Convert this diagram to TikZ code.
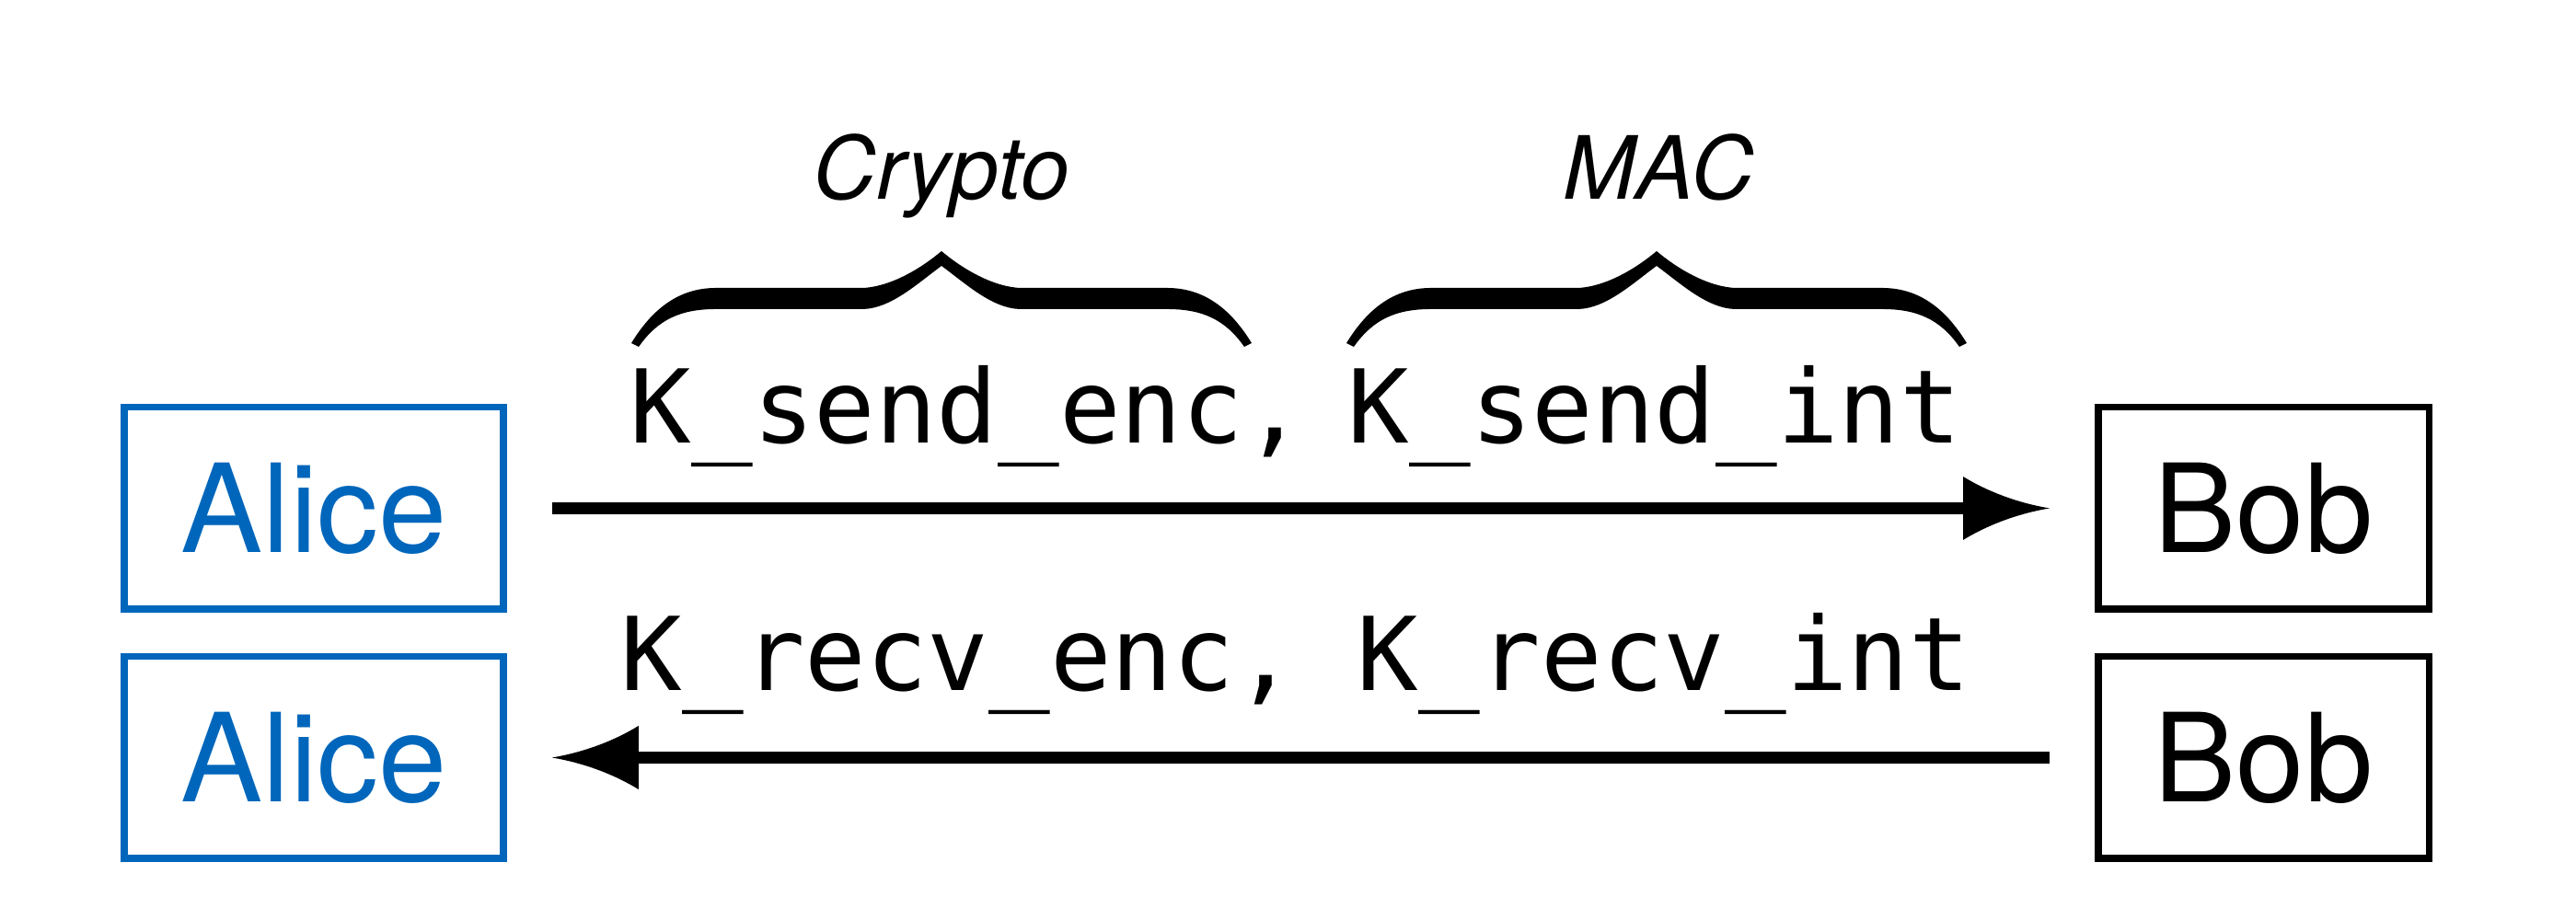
\documentclass[tikz,border=0pt]{standalone}
\usepackage{fontspec}
\setmainfont{TeX Gyre Heros}
\setmonofont{DejaVu Sans Mono}
\usetikzlibrary{arrows.meta}

\definecolor{alicecol}{HTML}{0066BB}

% concave arrow head with a flat back
\pgfdeclarearrow{
  name = Dart,
  parameters = {\the\pgfarrowlength,\the\pgfarrowwidth},
  setup code = {
    \pgfarrowssettipend{0pt}
    \pgfarrowssetlineend{-.5\pgfarrowlength}
    \pgfarrowssetvisualbackend{-\pgfarrowlength}
    \pgfarrowssetbackend{-\pgfarrowlength}
    \pgfarrowshullpoint{0pt}{0pt}
    \pgfarrowsupperhullpoint{-\pgfarrowlength}{.5\pgfarrowwidth}
    \pgfarrowssavethe\pgfarrowlength
    \pgfarrowssavethe\pgfarrowwidth
  },
  drawing code = {
    \pgfpathmoveto{\pgfqpoint{0pt}{0pt}}
    \pgfpathcurveto{\pgfpoint{-.35\pgfarrowlength}{.08\pgfarrowwidth}}{\pgfpoint{-.7\pgfarrowlength}{.25\pgfarrowwidth}}{\pgfpoint{-\pgfarrowlength}{.5\pgfarrowwidth}}
    \pgfpathlineto{\pgfpoint{-\pgfarrowlength}{-.5\pgfarrowwidth}}
    \pgfpathcurveto{\pgfpoint{-.7\pgfarrowlength}{-.25\pgfarrowwidth}}{\pgfpoint{-.35\pgfarrowlength}{-.08\pgfarrowwidth}}{\pgfqpoint{0pt}{0pt}}
    \pgfpathclose
    \pgfusepathqfill
  },
  defaults = {length=9mm, width=7mm}
}

\tikzset{
  party/.style={draw, line width=0.075cm, minimum height=2.195cm, inner sep=0pt,
    font=\fontsize{38}{40}\selectfont},
  alice/.style={party, draw=alicecol, text=alicecol, minimum width=4.12cm},
  bob/.style={party, minimum width=3.595cm},
  keys/.style={inner sep=0pt, anchor=base west, font=\ttfamily\fontsize{31.5}{34}\selectfont},
  role/.style={inner sep=0pt, anchor=base, font=\itshape\fontsize{27}{30}\selectfont},
  msg/.style={line width=0.13cm, -{Dart[length=0.94cm, width=0.69cm]},
    shorten <=0.49cm, shorten >=0.49cm},
  % filled brace, left tip at the origin
  keybrace/.pic={
    \fill (0,0.04) .. controls (0.25,0.45) and (0.55,0.64) .. (0.92,0.64) -- (2.52,0.64)
      .. controls (2.85,0.66) and (3.18,0.88) .. (3.37,1.04)
      .. controls (3.56,0.88) and (3.89,0.66) .. (4.22,0.64) -- (5.82,0.64)
      .. controls (6.19,0.64) and (6.49,0.45) .. (6.74,0.04) -- (6.66,0)
      .. controls (6.45,0.30) and (6.20,0.41) .. (5.82,0.41) -- (4.22,0.41)
      .. controls (3.92,0.42) and (3.64,0.68) .. (3.37,0.88)
      .. controls (3.10,0.68) and (2.82,0.42) .. (2.52,0.41) -- (0.92,0.41)
      .. controls (0.54,0.41) and (0.29,0.30) .. (0.08,0) -- cycle;
  }
}

\begin{document}
\begin{tikzpicture}
  \useasboundingbox (0,0) rectangle (27.99,10);
  % parties
  \node[alice] (a1) at (3.41,4.475) {Alice};
  \node[alice] (a2) at (3.41,1.765) {Alice};
  \node[bob] (b1) at (24.595,4.475) {Bob};
  \node[bob] (b2) at (24.595,1.765) {Bob};
  % messages
  \draw[msg] (a1) -- (b1);
  \draw[msg] (b2) -- (a2);
  % keys
  \node[keys] (ksend) at (6.84,5.18) {K\_send\_enc,};
  \node[keys] (kint) at (14.64,5.18) {K\_send\_int};
  \node[keys] (krecv) at (6.74,2.49) {K\_recv\_enc, K\_recv\_int};
  % braces
  \pic (bcrypto) at (6.86,6.23) {keybrace};
  \pic (bmac) at (14.63,6.23) {keybrace};
  \node[role] (crypto) at (10.23,7.83) {Crypto};
  \node[role] (mac) at (18.02,7.83) {MAC};
\end{tikzpicture}
\end{document}
